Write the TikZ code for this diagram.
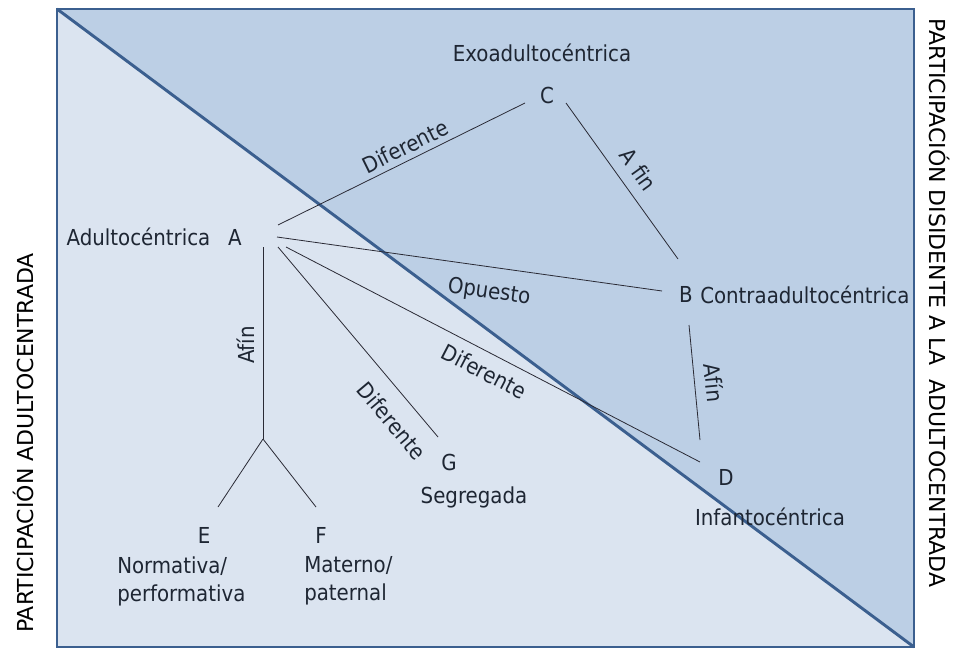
\documentclass[tikz,border=0pt]{standalone}
\usepackage{fontspec}
\setmainfont{DejaVu Sans Condensed}
\newfontfamily\ejefont{DejaVu Sans}
\usepackage{tikz}

\definecolor{fondoclaro}{HTML}{DBE4F0}
\definecolor{fondooscuro}{HTML}{BCCFE5}
\definecolor{borde}{HTML}{3B5F8F}
\definecolor{letra}{HTML}{1E2633}
\definecolor{trazo}{HTML}{2A2A35}

\tikzset{
	txt/.style={text=letra, inner sep=0pt, font=\fontsize{16.5}{21}\selectfont},
	eje/.style={text=black, inner sep=0pt, font=\ejefont\fontsize{16.5}{21}\selectfont},
	lbl/.style={txt, sloped},
	conn/.style={draw=trazo, line width=0.6pt}
}

\begin{document}
\begin{tikzpicture}[x=0.75pt, y=-0.75pt]
	\useasboundingbox (0, 0) rectangle (956, 649);
	\fill[fondoclaro] (57, 9) rectangle (914, 647);
	\fill[fondooscuro] (57, 9) -- (914, 9) -- (914, 647) -- cycle;
	\draw[borde, line width=1.8pt] (57, 9) rectangle (914, 647);
	\draw[borde, line width=2.2pt] (57, 9) -- (914, 647);

	\node[txt] (A) at (235, 237)     {A};
	\node[txt] (C) at (547, 95)      {C};
	\node[txt] (B) at (686, 294)     {B};
	\node[txt] (D) at (726, 477)     {D};
	\node[txt] (G) at (449, 462)     {G};
	\node[txt] (E) at (204, 535)     {E};
	\node[txt] (F) at (321, 535)     {F};
	\coordinate (J) at (263, 439);

	\node[txt] (adulto) at (138.5, 237)          {Adultocéntrica};
	\node[txt] (exo) at (542, 53)                {Exoadultocéntrica};
	\node[txt, anchor=west] (contra) at (700, 295) {Contraadultocéntrica};
	\node[txt] (infanto) at (770, 517)           {Infantocéntrica};
	\node[txt] (segreg) at (474, 497)            {Segregada};
	\node[txt, anchor=west, align=left] (norm) at (117, 581)  {Normativa/\\performativa};
	\node[txt, anchor=west, align=left] (mater) at (304, 581) {Materno/\\paternal};

	\node[eje, rotate=90] (ejeizq) at (23, 443)  {PARTICIPACIÓN ADULTOCENTRADA};
	\node[eje, rotate=-90] (ejeder) at (940, 303) {PARTICIPACIÓN DISIDENTE A LA\ \ ADULTOCENTRADA};

	\path[conn] ([shift={(43,-12)}]A.center) edge node[lbl, above=4pt, pos=0.54]{Diferente} ([shift={(-22,8)}]C.center);
	\path[conn] ([shift={(19,8)}]C.center) edge node[lbl, above=8.5pt, pos=0.5]{A fin} ([shift={(-8,-35)}]B.center);
	\path[conn] ([shift={(42,0)}]A.center) edge node[lbl, below=11pt, pos=0.56]{Opuesto} ([shift={(-24,-3)}]B.center);
	\path[conn] ([shift={(3,31)}]B.center) edge node[lbl, above=8pt, pos=0.52]{Afín} ([shift={(-26,-37)}]D.center);
	\path[conn] ([shift={(51,10)}]A.center) edge node[lbl, below=7.5pt, pos=0.5]{Diferente} ([shift={(-26,-15)}]D.center);
	\path[conn] ([shift={(43,10)}]A.center) edge node[lbl, below=12pt, pos=0.83]{Diferente} ([shift={(-11,-25)}]G.center);
	\path[conn] (J) edge node[lbl, above=6pt, pos=0.49]{Afín} ([shift={(28,10)}]A.center);
	\path[conn] (J) edge ([shift={(14,-28)}]E.center);
	\path[conn] (J) edge ([shift={(-5,-28)}]F.center);
\end{tikzpicture}
\end{document}
